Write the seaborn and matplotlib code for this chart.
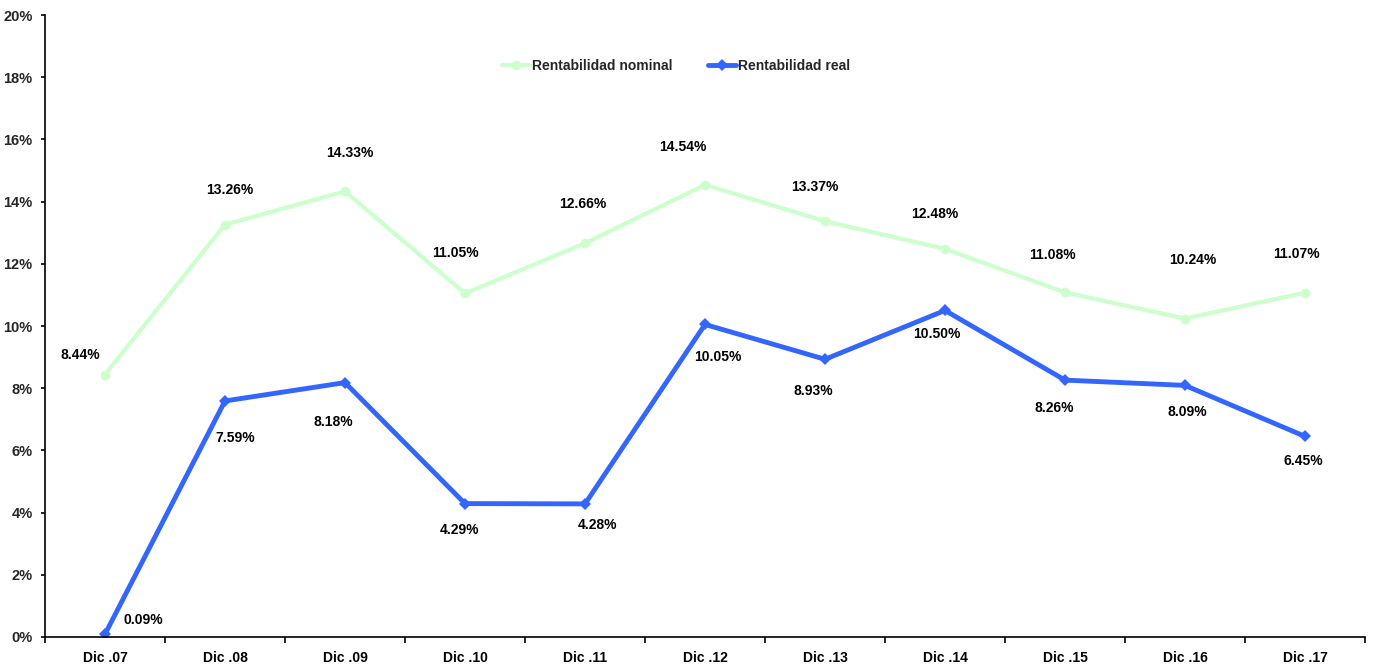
import numpy as np
import pandas as pd
import matplotlib
matplotlib.use("Agg")
import matplotlib.pyplot as plt
import seaborn as sns
from matplotlib.ticker import FuncFormatter, FixedLocator

periods = ["Dic.07", "Dic.08", "Dic.09", "Dic.10", "Dic.11", "Dic.12",
           "Dic.13", "Dic.14", "Dic.15", "Dic.16", "Dic.17"]
tick_labels = ["Dic .07", "Dic .08", "Dic .09", "Dic .10", "Dic .11", "Dic .12",
               "Dic .13", "Dic .14", "Dic .15", "Dic .16", "Dic .17"]
nominal = [8.44, 13.26, 14.33, 11.05, 12.66, 14.54, 13.37, 12.48, 11.08, 10.24, 11.07]
real = [0.09, 7.59, 8.18, 4.29, 4.28, 10.05, 8.93, 10.50, 8.26, 8.09, 6.45]

# label offsets in pixels (dx, dy) from each point
nominal_offsets = [(-25, 20), (5, 35), (5, 38), (-10, 40), (-2, 39), (-22, 38),
                   (-10, 34), (-10, 35), (-13, 37), (8, 59), (-9, 39)]
real_offsets = [(38, 14), (10, -37), (-12, -39), (-5, -26), (12, -21), (13, -33),
                (-12, -32), (-8, -24), (-11, -28), (2, -27), (-2, -25)]

sns.set_theme(style="white")
plt.rcParams["font.family"] = ["Liberation Sans", "DejaVu Sans"]

df = pd.DataFrame({
    "pos": np.arange(len(periods)),
    "Rentabilidad nominal": nominal,
    "Rentabilidad real": real,
})

fig = plt.figure(figsize=(13.76, 6.68), dpi=100)
ax = fig.add_axes([45 / 1376, 31 / 668, 1320 / 1376, 622 / 668])

nom_color = "#ccffcc"
real_color = "#3366ff"

sns.lineplot(data=df, x="pos", y="Rentabilidad nominal", ax=ax, color=nom_color,
             linewidth=3, marker="o", markersize=7, markeredgewidth=0,
             label="Rentabilidad nominal")
sns.lineplot(data=df, x="pos", y="Rentabilidad real", ax=ax, color=real_color,
             linewidth=3.5, marker="D", markersize=6, markeredgewidth=0,
             label="Rentabilidad real")

for i, (v, off) in enumerate(zip(nominal, nominal_offsets)):
    ax.annotate(f"{v:.2f}%", (i, v), xytext=off, textcoords="offset pixels",
                ha="center", va="center", fontsize=10, fontweight="bold", color="black")
for i, (v, off) in enumerate(zip(real, real_offsets)):
    ax.annotate(f"{v:.2f}%", (i, v), xytext=off, textcoords="offset pixels",
                ha="center", va="center", fontsize=10, fontweight="bold", color="black")

ax.set_xlim(-0.5, len(periods) - 0.5)
ax.set_ylim(0, 20)
ax.set_yticks(np.arange(0, 21, 2))
ax.yaxis.set_major_formatter(FuncFormatter(lambda v, _: f"{v:.0f}%"))

ax.xaxis.set_major_locator(FixedLocator(np.arange(-0.5, len(periods), 1.0)))
ax.xaxis.set_major_formatter(FuncFormatter(lambda v, _: ""))
ax.xaxis.set_minor_locator(FixedLocator(np.arange(len(periods))))
ax.set_xticklabels(tick_labels, minor=True)

ax.tick_params(axis="x", which="major", direction="out", length=4, width=1.2,
               color="black", bottom=True)
ax.tick_params(axis="x", which="minor", length=0, pad=10, labelsize=10,
               labelcolor="black", bottom=True)
ax.tick_params(axis="y", direction="out", length=3, width=1.2, color="black",
               left=True, labelsize=10.5, pad=6)
for lbl in ax.get_xticklabels(minor=True) + ax.get_yticklabels():
    lbl.set_fontweight("bold")

ax.set_xlabel("")
ax.set_ylabel("")
sns.despine(ax=ax)
for side in ("left", "bottom"):
    ax.spines[side].set_color("black")
    ax.spines[side].set_linewidth(1.2)

leg = ax.legend(loc="center left", bbox_to_anchor=(502 / 1376, 1 - 66 / 668),
                bbox_transform=fig.transFigure, ncol=2, frameon=False,
                borderpad=0, borderaxespad=0, handlelength=2.0,
                handletextpad=0.15, columnspacing=2.6,
                prop={"size": 10, "weight": "bold"})

fig.savefig("out.png", dpi=100)
